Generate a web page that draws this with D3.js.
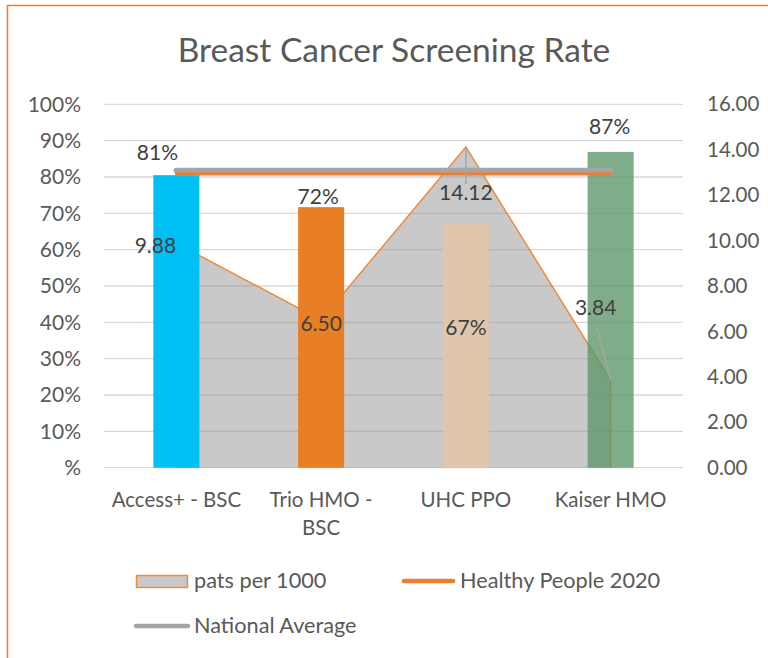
<!DOCTYPE html>
<html>
<head>
<meta charset="utf-8">
<script src="https://cdn.jsdelivr.net/npm/d3@7.9.0/dist/d3.min.js"></script>
<style>
  body { margin: 0; background: #fff; }
  svg text { font-family: Lato, "Open Sans", sans-serif; }
</style>
</head>
<body>
<svg id="chart" width="768" height="658"></svg>
<script>
// data
const categories = ['Access+ - BSC', 'Trio HMO - BSC', 'UHC PPO', 'Kaiser HMO'];
const screeningRate = [0.805, 0.717, 0.674, 0.869];
const patsPer1000 = [9.88, 6.50, 14.12, 3.84];
const healthyPeople2020 = 0.808;
const nationalAverage = 0.818;
const leftTicks = [0, 0.1, 0.2, 0.3, 0.4, 0.5, 0.6, 0.7, 0.8, 0.9, 1];
const rightTicks = [0, 2, 4, 6, 8, 10, 12, 14, 16];

// styling / layout
const barColors = ['#00BFF2', '#E97F24', '#DFC6AC', '#5F976B'];
const barOpacity = [1, 1, 1, 0.8];
const rateLabelDx = [-19, -3, 0, -1];
const rateLabelDy = [-23, -10, 105, -25];
const patsLabelDx = [-21, 0, 0, -15];
const patsLabelDy = [2, 4, 46, -73];

const svg = d3.select('#chart');
const plot = { left: 104, right: 683, top: 104.3, bottom: 467.7 };

const x = d3.scalePoint().domain(categories).range([plot.left, plot.right]).padding(0.5);
const yL = d3.scaleLinear().domain([0, 1]).range([plot.bottom, plot.top]);
const yR = d3.scaleLinear().domain([0, 16]).range([plot.bottom, plot.top]);
const barW = x.step() * 0.318;

// frame
svg.append('rect')
  .attr('x', 7.5).attr('y', 5.5).attr('width', 800).attr('height', 700)
  .attr('fill', 'none').attr('stroke', '#ED7D31').attr('stroke-width', 1.5);

// title
svg.append('text')
  .attr('x', 394).attr('y', 62)
  .attr('text-anchor', 'middle')
  .attr('font-size', 33.5).attr('fill', '#595959')
  .text('Breast Cancer Screening Rate');

// gridlines
svg.append('g').selectAll('line').data(leftTicks).join('line')
  .attr('x1', plot.left).attr('x2', plot.right)
  .attr('y1', d => yL(d)).attr('y2', d => yL(d))
  .attr('stroke', '#D9D9D9').attr('stroke-width', 1.3);

// left axis labels
svg.append('g').selectAll('text').data(leftTicks).join('text')
  .attr('x', 81).attr('y', d => yL(d)).attr('dy', '0.35em')
  .attr('text-anchor', 'end').attr('font-size', 21).attr('fill', '#595959')
  .text(d => d === 0 ? '%' : d3.format('.0%')(d));

// right axis labels
svg.append('g').selectAll('text').data(rightTicks).join('text')
  .attr('x', 707).attr('y', d => yR(d)).attr('dy', '0.35em')
  .attr('font-size', 20.5).attr('fill', '#595959')
  .text(d => d3.format('.2f')(d));

// area (pats per 1000) on right axis
const area = d3.area()
  .x((d, i) => x(categories[i]))
  .y0(yR(0))
  .y1(d => yR(d));
const topLine = d3.line()
  .x((d, i) => x(categories[i]))
  .y(d => yR(d));
svg.append('path')
  .datum(patsPer1000)
  .attr('d', area)
  .attr('fill', 'rgb(140,140,140)').attr('fill-opacity', 0.47);
svg.append('path')
  .datum(patsPer1000)
  .attr('d', topLine)
  .attr('fill', 'none')
  .attr('stroke', '#ED8B3F').attr('stroke-width', 1.5);
const lastIdx = patsPer1000.length - 1;
svg.append('line')
  .attr('x1', x(categories[lastIdx])).attr('x2', x(categories[lastIdx]))
  .attr('y1', yR(patsPer1000[lastIdx])).attr('y2', yR(0))
  .attr('stroke', '#ED8B3F').attr('stroke-width', 1.5);

// bars
svg.append('g').selectAll('rect').data(screeningRate).join('rect')
  .attr('x', (d, i) => x(categories[i]) - barW / 2)
  .attr('width', barW)
  .attr('y', d => yL(d))
  .attr('height', d => yL(0) - yL(d))
  .attr('fill', (d, i) => barColors[i])
  .attr('fill-opacity', (d, i) => barOpacity[i]);

// reference lines
const first = x(categories[0]);
const last = x(categories[categories.length - 1]);
svg.append('line')
  .attr('x1', first).attr('x2', last)
  .attr('y1', yL(nationalAverage)).attr('y2', yL(nationalAverage))
  .attr('stroke', '#A5A5A5').attr('stroke-width', 5.5).attr('stroke-linecap', 'round');
svg.append('line')
  .attr('x1', first).attr('x2', last)
  .attr('y1', yL(healthyPeople2020)).attr('y2', yL(healthyPeople2020))
  .attr('stroke', '#ED7D31').attr('stroke-width', 3).attr('stroke-linecap', 'round');

// leader lines for moved area labels
[2, 3].forEach(i => {
  const px = x(categories[i]), py = yR(patsPer1000[i]);
  const lx = px + patsLabelDx[i], ly = py + patsLabelDy[i];
  const endY = patsLabelDy[i] > 0 ? ly - 9 : ly + 18;
  svg.append('line')
    .attr('x1', px).attr('y1', py)
    .attr('x2', i === 3 ? lx + 1 : lx).attr('y2', endY)
    .attr('stroke', '#A6A6A6').attr('stroke-width', 1.5);
});

// data labels
svg.append('g').selectAll('text').data(screeningRate).join('text')
  .attr('x', (d, i) => x(categories[i]) + rateLabelDx[i])
  .attr('y', (d, i) => yL(d) + rateLabelDy[i])
  .attr('dy', '0.35em').attr('text-anchor', 'middle')
  .attr('font-size', 21).attr('fill', '#404040')
  .text(d => d3.format('.0%')(d));

svg.append('g').selectAll('text').data(patsPer1000).join('text')
  .attr('x', (d, i) => x(categories[i]) + patsLabelDx[i])
  .attr('y', (d, i) => yR(d) + patsLabelDy[i])
  .attr('dy', '0.35em').attr('text-anchor', 'middle')
  .attr('font-size', 21).attr('fill', '#404040')
  .text(d => d3.format('.2f')(d));

// category labels (wrap long ones)
const catWrap = { 'Trio HMO - BSC': ['Trio HMO -', 'BSC'] };
categories.forEach(c => {
  const lines = catWrap[c] || [c];
  const t = svg.append('text')
    .attr('x', x(c)).attr('y', 507)
    .attr('text-anchor', 'middle').attr('font-size', 20.5).attr('fill', '#595959');
  lines.forEach((l, j) => {
    t.append('tspan').attr('x', x(c)).attr('dy', j === 0 ? 0 : 28).text(l);
  });
});

// legend
const lg = svg.append('g');
lg.append('rect')
  .attr('x', 136.5).attr('y', 575.5).attr('width', 51).attr('height', 12)
  .attr('fill', '#C9C9C9').attr('stroke', '#ED8B3F').attr('stroke-width', 1.5);
lg.append('text').attr('x', 194).attr('y', 588)
  .attr('font-size', 21.7).attr('fill', '#595959').text('pats per 1000');

lg.append('line')
  .attr('x1', 404).attr('x2', 453).attr('y1', 581).attr('y2', 581)
  .attr('stroke', '#ED7D31').attr('stroke-width', 4.5).attr('stroke-linecap', 'round');
lg.append('text').attr('x', 460).attr('y', 588)
  .attr('font-size', 21.7).attr('fill', '#595959').text('Healthy People 2020');

lg.append('line')
  .attr('x1', 136).attr('x2', 188).attr('y1', 626).attr('y2', 626)
  .attr('stroke', '#A5A5A5').attr('stroke-width', 4.5).attr('stroke-linecap', 'round');
lg.append('text').attr('x', 194).attr('y', 633)
  .attr('font-size', 21.7).attr('fill', '#595959').text('National Average');
</script>
</body>
</html>
